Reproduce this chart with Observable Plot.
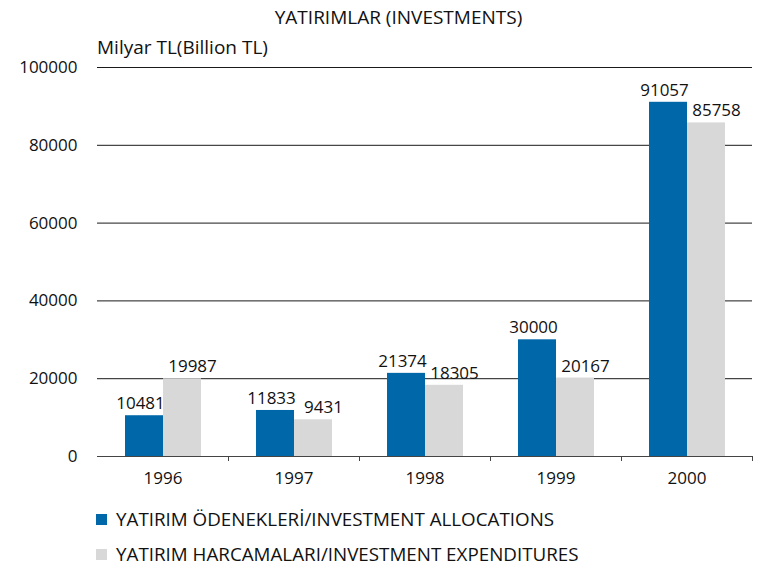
<!DOCTYPE html>
<html><head><meta charset="utf-8">
<script src="https://cdn.jsdelivr.net/npm/d3@7"></script>
<script src="https://cdn.jsdelivr.net/npm/@observablehq/plot@0.6"></script>
<style>
body{margin:0;background:#fff;font-family:"Open Sans",sans-serif;color:#111;}
#chart{position:relative;width:758px;height:569px;overflow:hidden;}
#plot{position:absolute;left:0;top:0;}
.txt{position:absolute;white-space:nowrap;line-height:22px;font-size:19px;}
.legend{position:absolute;left:96px;font-size:18.8px;line-height:22px;display:flex;align-items:center;white-space:nowrap;}
.sw{width:11px;height:11px;margin-right:9px;}
</style></head>
<body><div id="chart">
<div id="plot"></div>
<div class="txt" id="title" style="top:6px;left:0;width:797px;text-align:center;"></div>
<div class="txt" id="unit" style="top:36px;left:97px;"></div>
<div id="legend"></div>
</div>
<script>
const years = ["1996", "1997", "1998", "1999", "2000"];
const allocations = [10481, 11833, 21374, 30000, 91057];
const expenditures = [19987, 9431, 18305, 20167, 85758];
const seriesNames = ["YATIRIM ÖDENEKLERİ/INVESTMENT ALLOCATIONS", "YATIRIM HARCAMALARI/INVESTMENT EXPENDITURES"];
const yTicks = [0, 20000, 40000, 60000, 80000, 100000];
const titleText = "YATIRIMLAR (INVESTMENTS)";
const unitText = "Milyar TL(Billion TL)";
const colors = ["#0067a8", "#d8d8d8"];

const rows = years.flatMap((yr, i) => [
  {year: yr, series: seriesNames[0], value: allocations[i]},
  {year: yr, series: seriesNames[1], value: expenditures[i]}
]);

const W = 758, H = 500, ML = 97, MR = 6, MT = 67, MB = 44;
const bw = (W - ML - MR) / years.length;

const chart = Plot.plot({
  width: W, height: H,
  marginLeft: ML, marginRight: MR, marginTop: MT, marginBottom: MB,
  style: {fontFamily: '"Open Sans", sans-serif', fontSize: "17px", color: "#111", background: "#fff", overflow: "visible"},
  fx: {domain: years, padding: 0, label: null, axis: null},
  x: {domain: seriesNames, paddingInner: 0, paddingOuter: 0.7, axis: null},
  y: {domain: [0, 100000], label: null, axis: null},
  color: {domain: seriesNames, range: colors},
  marks: [
    Plot.ruleY(yTicks.filter(d => d > 0), {stroke: "#1a1a1a", strokeWidth: 1}),
    Plot.barY(rows, {fx: "year", x: "series", y: "value", fill: "series"}),
    Plot.ruleY([0], {stroke: "#444", strokeWidth: 1.2}),
    Plot.axisY(yTicks, {anchor: "left", tickSize: 0, tickPadding: 20, tickFormat: d => String(d), label: null, fontSize: 17}),
    Plot.axisFx({anchor: "bottom", tickSize: 0, tickPadding: 15, label: null, fontSize: 17}),
    Plot.axisFx({anchor: "bottom", tickSize: 5, tickFormat: () => "", dx: bw / 2, label: null, stroke: "#444"}),
    Plot.text(rows.filter(d => d.series === seriesNames[0]), {fx: "year", x: "series", y: "value", text: d => String(d.value), dy: -12, dx: -4, fontSize: 17, fill: "#111"}),
    Plot.text(rows.filter(d => d.series === seriesNames[1]), {fx: "year", x: "series", y: "value", text: d => String(d.value), dy: -12, dx: 10, fontSize: 17, fill: "#111"})
  ]
});
document.getElementById("plot").appendChild(chart);
document.getElementById("title").textContent = titleText;
document.getElementById("unit").textContent = unitText;

const legend = document.getElementById("legend");
const legendTops = [508, 543];
seriesNames.forEach((name, i) => {
  const row = document.createElement("div");
  row.className = "legend";
  row.style.top = legendTops[i] + "px";
  const sw = document.createElement("div");
  sw.className = "sw";
  sw.style.background = colors[i];
  const t = document.createElement("span");
  t.textContent = name;
  row.appendChild(sw); row.appendChild(t);
  legend.appendChild(row);
});
</script>
</body></html>
